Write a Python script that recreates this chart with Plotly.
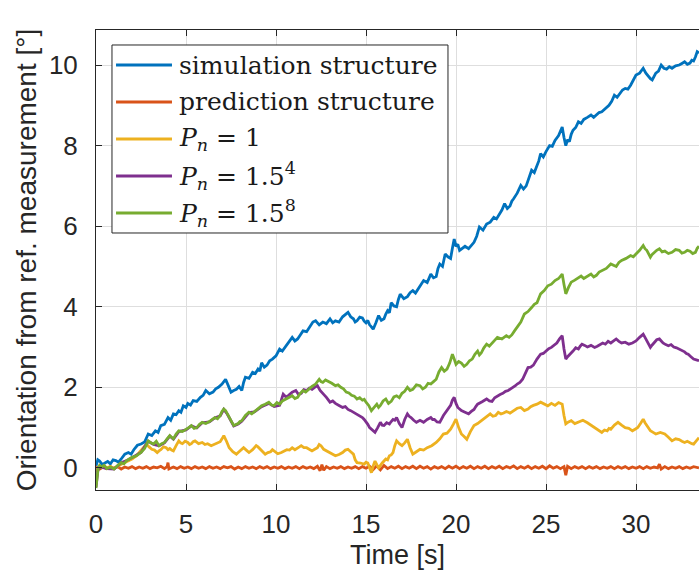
import plotly.graph_objects as go

# ---- data: (time [s], orientation [deg]) pairs ----
sim_structure = [
    (0,0.05),(0.1,0.2),(0.2,0.17),(0.35,0.08),(0.5,0.12),(0.65,0.16),(0.8,0.1),(0.95,0.2),(1.1,0.18),(1.25,0.14),
    (1.4,0.22),(1.6,0.34),(1.8,0.38),(1.95,0.34),(2.1,0.45),(2.3,0.56),(2.5,0.59),(2.7,0.64),(2.9,0.84),(3.1,0.8),
    (3.3,0.92),(3.45,0.88),(3.6,1.05),(3.8,1.08),(4.0,1.25),(4.15,1.18),(4.3,1.34),(4.45,1.32),(4.6,1.42),(4.72,1.38),
    (4.85,1.54),(5.0,1.5),(5.1,1.6),(5.25,1.56),(5.4,1.67),(5.6,1.65),(5.8,1.75),(5.95,1.8),(6.1,1.92),(6.3,1.84),
    (6.5,1.88),(6.65,1.96),(6.8,2.0),(7.0,2.08),(7.2,2.2),(7.35,2.05),(7.5,1.88),(7.65,1.92),(7.8,1.95),(7.95,2.02),
    (8.1,1.92),(8.2,2.12),(8.3,2.25),(8.5,2.22),(8.7,2.37),(8.85,2.34),(9.0,2.45),(9.1,2.4),(9.2,2.61),(9.35,2.5),
    (9.5,2.55),(9.65,2.66),(9.8,2.7),(10.0,2.78),(10.2,2.95),(10.35,2.9),(10.5,3.0),(10.7,3.12),(10.9,3.24),(11.05,3.15),
    (11.2,3.2),(11.35,3.3),(11.5,3.4),(11.7,3.38),(11.9,3.5),(12.05,3.62),(12.2,3.65),(12.4,3.55),(12.6,3.62),(12.8,3.58),
    (13.0,3.7),(13.15,3.6),(13.3,3.65),(13.5,3.62),(13.7,3.75),(13.85,3.8),(14.0,3.86),(14.15,3.75),(14.3,3.7),(14.4,3.62),
    (14.5,3.65),(14.65,3.74),(14.8,3.72),(14.9,3.64),(15.0,3.6),(15.1,3.66),(15.2,3.55),(15.3,3.5),(15.4,3.44),(15.55,3.6),
    (15.7,3.78),(15.85,3.66),(16.0,3.7),(16.1,3.82),(16.2,3.9),(16.3,3.85),(16.4,4.1),(16.55,4.02),(16.7,4.0),(16.8,4.18),
    (16.9,4.31),(17.1,4.2),(17.3,4.25),(17.45,4.35),(17.6,4.4),(17.75,4.34),(17.9,4.45),(18.05,4.55),(18.2,4.65),(18.4,4.6),
    (18.6,4.81),(18.75,4.72),(18.9,4.75),(19.0,4.95),(19.1,5.06),(19.25,5.0),(19.4,5.31),(19.55,5.24),(19.7,5.2),(19.8,5.45),
    (19.9,5.68),(20.0,5.5),(20.1,5.55),(20.2,5.4),(20.3,5.44),(20.5,5.5),(20.7,5.44),(20.85,5.52),(21.0,5.6),(21.15,5.75),
    (21.3,5.98),(21.5,5.9),(21.7,6.05),(21.9,6.1),(22.1,6.22),(22.25,6.18),(22.4,6.3),(22.55,6.4),(22.7,6.56),(22.85,6.44),
    (23.0,6.5),(23.1,6.62),(23.2,6.68),(23.4,6.82),(23.6,7.01),(23.75,6.92),(23.9,7.0),(24.05,7.22),(24.2,7.39),(24.35,7.33),
    (24.5,7.5),(24.6,7.62),(24.7,7.8),(24.85,7.72),(25.0,7.85),(25.1,7.92),(25.2,8.0),(25.35,7.98),(25.5,8.13),(25.7,8.25),
    (25.9,8.46),(26.0,8.2),(26.1,8.0),(26.2,8.15),(26.3,8.1),(26.4,8.28),(26.5,8.38),(26.65,8.45),(26.8,8.59),(26.95,8.55),
    (27.1,8.65),(27.3,8.7),(27.5,8.76),(27.65,8.7),(27.8,8.75),(27.95,8.82),(28.1,8.84),(28.3,8.92),(28.5,9.0),(28.65,9.1),
    (28.8,9.25),(28.95,9.2),(29.1,9.3),(29.25,9.38),(29.4,9.42),(29.55,9.4),(29.7,9.5),(29.85,9.62),(30.0,9.75),(30.2,9.8),
    (30.4,9.92),(30.55,9.8),(30.7,9.7),(30.8,9.66),(30.9,9.63),(31.0,9.72),(31.1,9.8),(31.25,9.85),(31.4,10.0),(31.55,9.92),
    (31.7,9.9),(31.85,9.96),(32.0,9.92),(32.2,9.98),(32.4,10.0),(32.55,10.04),(32.7,10.08),(32.85,10.02),(33.0,10.05),(33.1,10.12),
    (33.2,10.1),(33.3,10.2),(33.4,10.33),(33.5,10.3),
]

pred_structure = [
    (0,0.03),(0.2,-0.03),(0.4,0.02),(0.6,-0.02),(0.8,0.03),(1.0,-0.01),(1.2,0.03),(1.4,-0.03),(1.6,0.02),(1.8,-0.01),
    (2.0,0.03),(2.2,-0.02),(2.4,0.02),(2.6,-0.01),(2.8,0.03),(3.0,-0.02),(3.2,0.02),(3.4,0.0),(3.6,0.04),(3.8,-0.02),
    (3.95,0.03),(4.0,0.13),(4.05,-0.03),(4.3,0.02),(4.5,-0.02),(4.7,0.03),(4.9,-0.01),(5.1,0.02),(5.3,-0.02),(5.5,0.03),
    (5.7,-0.01),(5.9,0.02),(6.1,-0.02),(6.3,0.03),(6.5,-0.01),(6.7,0.02),(6.9,-0.02),(7.1,0.03),(7.3,0.0),(7.5,0.03),
    (7.7,-0.03),(7.9,0.02),(8.1,-0.02),(8.3,0.03),(8.5,-0.01),(8.7,0.02),(8.9,-0.02),(9.1,0.03),(9.3,-0.01),(9.5,0.03),
    (9.7,-0.02),(9.9,0.02),(10.1,-0.01),(10.3,0.03),(10.5,-0.02),(10.7,0.02),(10.9,-0.01),(11.1,0.03),(11.3,-0.02),(11.5,0.03),
    (11.7,-0.01),(11.9,0.02),(12.1,-0.02),(12.3,0.04),(12.45,-0.07),(12.55,0.08),(12.65,-0.06),(12.8,0.03),(13.0,-0.02),(13.2,0.02),
    (13.4,-0.01),(13.6,0.03),(13.8,-0.02),(14.0,0.02),(14.2,-0.01),(14.4,0.03),(14.6,-0.02),(14.8,0.03),(15.0,-0.01),(15.2,0.04),
    (15.4,-0.04),(15.6,0.05),(15.8,-0.05),(16.0,0.06),(16.2,-0.02),(16.4,0.03),(16.6,-0.01),(16.8,0.04),(17.0,-0.02),(17.2,0.03),
    (17.4,-0.01),(17.6,0.04),(17.8,-0.02),(18.0,0.04),(18.2,-0.01),(18.4,0.03),(18.6,-0.03),(18.8,0.03),(19.0,-0.01),(19.2,0.03),
    (19.4,-0.02),(19.6,0.04),(19.8,-0.01),(20.0,0.04),(20.2,-0.02),(20.4,0.03),(20.6,-0.01),(20.8,0.04),(21.0,-0.02),(21.2,0.03),
    (21.4,-0.01),(21.6,0.04),(21.8,-0.02),(22.0,0.03),(22.2,-0.01),(22.4,0.04),(22.6,-0.02),(22.8,0.03),(23.0,0.0),(23.2,0.05),
    (23.4,-0.02),(23.6,0.03),(23.8,-0.01),(24.0,0.04),(24.2,-0.02),(24.4,0.03),(24.6,-0.01),(24.8,0.04),(25.0,-0.02),(25.2,0.05),
    (25.4,-0.01),(25.6,0.03),(25.8,-0.02),(26.0,0.03),(26.1,-0.18),(26.2,0.04),(26.4,-0.02),(26.6,0.03),(26.8,-0.01),(27.0,0.03),
    (27.2,-0.02),(27.4,0.03),(27.6,-0.01),(27.8,0.03),(28.0,-0.02),(28.2,0.02),(28.4,-0.01),(28.6,0.03),(28.8,-0.02),(29.0,0.03),
    (29.2,-0.01),(29.4,0.03),(29.6,-0.02),(29.8,0.02),(30.0,-0.01),(30.2,0.03),(30.4,-0.02),(30.6,0.03),(30.8,-0.01),(31.0,0.02),
    (31.2,0.0),(31.3,0.09),(31.4,-0.03),(31.6,0.03),(31.8,-0.02),(32.0,0.02),(32.2,-0.01),(32.4,0.03),(32.6,-0.02),(32.8,0.02),
    (33.0,-0.01),(33.2,0.03),(33.5,0.0),
]

pn_1 = [
    (0,-0.1),(0.12,0.0),(0.2,0.05),(0.3,0.02),(0.45,0.05),(0.6,0.0),(0.8,0.03),(1.0,-0.02),(1.2,0.04),(1.4,0.09),
    (1.55,0.12),(1.7,0.15),(1.85,0.2),(2.0,0.22),(2.25,0.3),(2.5,0.42),(2.65,0.5),(2.8,0.59),(2.95,0.52),(3.1,0.46),
    (3.25,0.44),(3.4,0.38),(3.5,0.42),(3.6,0.45),(3.75,0.52),(3.9,0.5),(4.0,0.45),(4.1,0.48),(4.2,0.44),(4.3,0.42),
    (4.45,0.55),(4.6,0.67),(4.7,0.62),(4.8,0.6),(4.95,0.66),(5.1,0.63),(5.2,0.58),(5.3,0.6),(5.4,0.65),(5.5,0.67),
    (5.7,0.6),(5.9,0.63),(6.05,0.58),(6.2,0.6),(6.4,0.55),(6.6,0.59),(6.75,0.6),(6.9,0.65),(7.0,0.72),(7.1,0.8),
    (7.25,0.66),(7.4,0.5),(7.6,0.4),(7.8,0.34),(7.9,0.38),(8.0,0.42),(8.1,0.47),(8.2,0.5),(8.35,0.44),(8.5,0.38),
    (8.7,0.45),(8.9,0.55),(9.0,0.52),(9.1,0.48),(9.25,0.4),(9.4,0.34),(9.55,0.38),(9.7,0.4),(9.8,0.45),(9.9,0.42),
    (10.1,0.35),(10.3,0.38),(10.45,0.42),(10.6,0.45),(10.75,0.44),(10.9,0.5),(11.05,0.45),(11.2,0.48),(11.3,0.52),(11.4,0.55),
    (11.55,0.5),(11.7,0.5),(11.85,0.46),(12.0,0.42),(12.15,0.46),(12.3,0.5),(12.4,0.58),(12.5,0.55),(12.65,0.46),(12.8,0.42),
    (12.9,0.4),(13.0,0.38),(13.15,0.34),(13.3,0.3),(13.5,0.33),(13.7,0.38),(13.85,0.44),(14.0,0.46),(14.15,0.4),(14.3,0.34),
    (14.4,0.2),(14.5,0.13),(14.7,0.12),(14.9,0.09),(15.0,0.14),(15.1,0.12),(15.2,0.0),(15.3,-0.12),(15.4,0.05),(15.5,0.17),
    (15.6,0.08),(15.7,0.0),(15.9,0.12),(16.1,0.22),(16.2,0.2),(16.3,0.3),(16.4,0.32),(16.5,0.38),(16.6,0.55),(16.7,0.67),
    (16.85,0.6),(17.0,0.55),(17.15,0.62),(17.3,0.71),(17.45,0.5),(17.6,0.34),(17.8,0.4),(18.0,0.46),(18.2,0.44),(18.4,0.5),
    (18.65,0.55),(18.9,0.63),(19.1,0.72),(19.3,0.84),(19.5,0.86),(19.7,0.96),(19.85,1.08),(20.0,1.21),(20.15,1.0),(20.3,0.84),
    (20.45,0.78),(20.6,0.71),(20.8,0.9),(21.0,1.05),(21.2,1.1),(21.4,1.17),(21.65,1.26),(21.9,1.34),(22.05,1.28),(22.2,1.3),
    (22.35,1.38),(22.5,1.34),(22.65,1.36),(22.8,1.4),(23.0,1.36),(23.2,1.42),(23.4,1.48),(23.6,1.5),(23.8,1.42),(24.0,1.46),
    (24.15,1.52),(24.3,1.55),(24.5,1.58),(24.7,1.63),(24.9,1.58),(25.1,1.54),(25.3,1.6),(25.5,1.55),(25.7,1.62),(25.9,1.58),
    (26.0,1.3),(26.1,1.09),(26.25,1.14),(26.4,1.17),(26.6,1.1),(26.8,1.13),(27.05,1.18),(27.3,1.12),(27.5,1.06),(27.7,1.0),
    (27.9,0.96),(28.1,0.88),(28.25,0.94),(28.4,0.92),(28.5,0.98),(28.6,0.96),(28.8,1.06),(29.0,1.13),(29.2,1.06),(29.4,1.0),
    (29.6,0.98),(29.8,0.92),(29.95,0.96),(30.1,1.0),(30.25,1.1),(30.4,1.21),(30.5,1.12),(30.6,1.05),(30.7,0.98),(30.8,0.92),
    (30.95,0.88),(31.1,0.84),(31.35,0.88),(31.6,0.84),(31.8,0.76),(32.0,0.67),(32.2,0.72),(32.4,0.7),(32.55,0.66),(32.7,0.63),
    (32.85,0.66),(33.0,0.62),(33.1,0.6),(33.2,0.59),(33.35,0.66),(33.5,0.75),
]

pn_15_4 = [
    (0,-0.48),(0.05,-0.2),(0.12,0.0),(0.3,0.02),(0.6,-0.02),(1.0,-0.03),(1.4,0.13),(1.7,0.18),(2.0,0.26),(2.5,0.38),
    (2.9,0.66),(3.2,0.58),(3.5,0.55),(3.8,0.62),(4.1,0.79),(4.3,0.71),(4.6,0.9),(5.0,0.94),(5.3,1.04),(5.6,0.99),
    (5.9,1.12),(6.3,1.14),(6.6,1.24),(6.9,1.29),(7.1,1.45),(7.3,1.33),(7.65,1.04),(7.9,1.09),(8.1,1.16),(8.5,1.37),
    (8.8,1.39),(9.2,1.52),(9.6,1.6),(9.9,1.52),(10.2,1.55),(10.3,1.7),(10.4,1.83),(10.55,1.76),(10.7,1.8),(10.9,1.88),
    (11.1,1.92),(11.25,1.82),(11.4,1.85),(11.55,1.94),(11.7,1.92),(11.85,1.98),(12.0,1.95),(12.15,2.0),(12.3,2.04),(12.45,1.92),
    (12.6,1.83),(12.7,1.8),(12.8,1.75),(12.9,1.68),(13.0,1.63),(13.15,1.66),(13.3,1.6),(13.5,1.55),(13.7,1.5),(13.85,1.52),
    (14.0,1.45),(14.15,1.42),(14.3,1.38),(14.45,1.34),(14.6,1.3),(14.7,1.28),(14.8,1.25),(14.9,1.2),(15.0,1.15),(15.1,1.08),
    (15.2,1.0),(15.35,0.95),(15.5,0.88),(15.65,1.0),(15.8,1.13),(15.9,1.06),(16.0,1.05),(16.15,1.12),(16.3,1.09),(16.4,1.15),
    (16.5,1.2),(16.6,1.18),(16.7,1.25),(16.85,1.1),(17.0,1.0),(17.15,1.2),(17.3,1.34),(17.4,1.28),(17.5,1.25),(17.65,1.18),
    (17.8,1.13),(18.0,1.18),(18.2,1.13),(18.4,1.2),(18.6,1.25),(18.7,1.2),(18.8,1.2),(18.95,1.14),(19.1,1.13),(19.3,1.3),
    (19.5,1.42),(19.6,1.5),(19.7,1.55),(19.8,1.68),(19.9,1.75),(20.0,1.6),(20.1,1.5),(20.2,1.46),(20.3,1.42),(20.5,1.38),
    (20.7,1.34),(20.85,1.4),(21.0,1.45),(21.1,1.52),(21.2,1.58),(21.45,1.64),(21.7,1.71),(21.85,1.66),(22.0,1.65),(22.15,1.74),
    (22.3,1.79),(22.45,1.82),(22.6,1.85),(22.75,1.9),(22.9,1.92),(23.05,1.96),(23.2,2.0),(23.3,2.04),(23.4,2.08),(23.55,2.12),
    (23.7,2.2),(23.85,2.35),(24.0,2.49),(24.15,2.5),(24.3,2.55),(24.5,2.7),(24.7,2.82),(24.85,2.84),(25.0,2.9),(25.15,2.96),
    (25.3,2.99),(25.45,3.05),(25.6,3.1),(25.75,3.2),(25.9,3.28),(26.0,2.95),(26.1,2.7),(26.2,2.76),(26.3,2.8),(26.4,2.86),
    (26.5,2.9),(26.65,2.98),(26.8,2.95),(26.9,3.02),(27.0,3.07),(27.15,3.04),(27.3,3.0),(27.5,3.04),(27.7,2.99),(27.85,3.02),
    (28.0,3.05),(28.15,3.1),(28.3,3.07),(28.45,3.14),(28.6,3.1),(28.75,3.16),(28.9,3.2),(29.05,3.14),(29.2,3.1),(29.4,3.12),
    (29.6,3.07),(29.8,3.1),(30.0,3.15),(30.2,3.24),(30.4,3.32),(30.5,3.24),(30.6,3.15),(30.7,3.06),(30.8,2.99),(30.9,3.05),
    (31.0,3.1),(31.15,3.18),(31.3,3.2),(31.4,3.14),(31.5,3.1),(31.65,3.06),(31.8,3.03),(31.95,3.06),(32.1,3.0),(32.25,2.98),
    (32.4,2.95),(32.55,2.9),(32.7,2.88),(32.8,2.84),(32.9,2.82),(33.05,2.76),(33.2,2.7),(33.35,2.68),(33.5,2.66),
]

pn_15_8 = [
    (0,-0.5),(0.05,-0.2),(0.12,0.0),(0.2,0.06),(0.3,0.02),(0.45,0.06),(0.6,-0.02),(0.8,0.02),(1.0,-0.03),(1.2,0.06),
    (1.4,0.13),(1.55,0.1),(1.7,0.18),(1.85,0.22),(2.0,0.26),(2.25,0.3),(2.5,0.38),(2.7,0.48),(2.9,0.67),(3.05,0.62),
    (3.2,0.59),(3.35,0.66),(3.5,0.55),(3.65,0.6),(3.8,0.63),(3.95,0.72),(4.1,0.8),(4.2,0.76),(4.3,0.72),(4.45,0.84),
    (4.6,0.92),(4.8,0.9),(5.0,0.95),(5.15,1.0),(5.3,1.05),(5.45,0.98),(5.6,1.0),(5.75,1.08),(5.9,1.13),(6.1,1.1),
    (6.3,1.15),(6.45,1.2),(6.6,1.25),(6.75,1.22),(6.9,1.3),(7.0,1.4),(7.1,1.46),(7.2,1.42),(7.3,1.34),(7.45,1.2),
    (7.65,1.05),(7.8,1.08),(7.9,1.1),(8.0,1.15),(8.1,1.17),(8.3,1.3),(8.5,1.38),(8.65,1.34),(8.8,1.4),(9.0,1.48),
    (9.2,1.54),(9.4,1.58),(9.6,1.63),(9.75,1.56),(9.9,1.55),(10.05,1.62),(10.2,1.58),(10.35,1.66),(10.5,1.7),(10.7,1.74),
    (10.9,1.79),(11.05,1.72),(11.2,1.75),(11.35,1.85),(11.5,1.92),(11.65,1.88),(11.8,1.95),(12.0,2.02),(12.2,2.08),(12.3,2.14),
    (12.4,2.2),(12.5,2.14),(12.6,2.12),(12.75,2.18),(12.9,2.15),(13.1,2.1),(13.3,2.04),(13.45,2.06),(13.6,2.0),(13.75,1.96),
    (13.9,1.88),(14.05,1.86),(14.2,1.8),(14.35,1.78),(14.5,1.71),(14.65,1.74),(14.8,1.68),(14.9,1.7),(15.0,1.63),(15.15,1.55),
    (15.3,1.42),(15.45,1.5),(15.6,1.58),(15.7,1.5),(15.8,1.55),(15.95,1.66),(16.1,1.71),(16.25,1.6),(16.4,1.65),(16.55,1.76),
    (16.7,1.79),(16.85,1.74),(17.0,1.85),(17.15,1.9),(17.3,2.0),(17.45,1.92),(17.6,1.95),(17.8,2.06),(18.0,2.04),(18.15,1.96),
    (18.3,2.0),(18.45,2.1),(18.6,2.08),(18.75,2.14),(18.9,2.2),(19.05,2.38),(19.2,2.49),(19.35,2.4),(19.5,2.45),(19.65,2.6),
    (19.8,2.82),(19.9,2.7),(20.0,2.57),(20.15,2.64),(20.3,2.6),(20.45,2.52),(20.6,2.57),(20.75,2.66),(20.9,2.7),(21.05,2.82),
    (21.2,2.9),(21.3,2.8),(21.4,2.85),(21.55,2.98),(21.7,3.07),(21.85,3.02),(22.0,3.1),(22.15,3.18),(22.3,3.24),(22.55,3.2),
    (22.8,3.28),(22.95,3.24),(23.1,3.3),(23.25,3.4),(23.4,3.49),(23.6,3.62),(23.8,3.82),(24.0,3.88),(24.2,3.98),(24.35,4.06),
    (24.5,4.1),(24.6,4.2),(24.7,4.32),(24.9,4.4),(25.1,4.52),(25.3,4.56),(25.5,4.65),(25.7,4.7),(25.9,4.81),(26.0,4.55),
    (26.1,4.32),(26.25,4.48),(26.4,4.61),(26.6,4.66),(26.8,4.73),(26.95,4.76),(27.1,4.7),(27.3,4.76),(27.5,4.81),(27.65,4.74),
    (27.8,4.78),(27.95,4.86),(28.1,4.9),(28.35,4.95),(28.6,5.06),(28.75,5.02),(28.9,5.0),(29.05,5.1),(29.2,5.15),(29.45,5.2),
    (29.7,5.27),(29.85,5.24),(30.0,5.3),(30.2,5.4),(30.4,5.52),(30.5,5.44),(30.6,5.4),(30.7,5.3),(30.8,5.23),(30.9,5.3),
    (31.0,5.35),(31.15,5.4),(31.3,5.44),(31.45,5.36),(31.6,5.38),(31.8,5.32),(32.0,5.35),(32.2,5.42),(32.4,5.4),(32.55,5.33),
    (32.7,5.35),(32.85,5.4),(33.0,5.38),(33.15,5.32),(33.3,5.35),(33.4,5.45),(33.5,5.5),
]

series_names = [
    "simulation structure",
    "prediction structure",
    "<i>P</i><sub><i>n</i></sub> = 1",
    "<i>P</i><sub><i>n</i></sub> = 1.5<sup>4</sup>",
    "<i>P</i><sub><i>n</i></sub> = 1.5<sup>8</sup>",
]
series_data = [sim_structure, pred_structure, pn_1, pn_15_4, pn_15_8]
series_colors = ["#0072BD", "#D95319", "#EDB120", "#7E2F8E", "#77AC30"]

x_ticks = [0, 5, 10, 15, 20, 25, 30]
y_ticks = [0, 2, 4, 6, 8, 10]

fig = go.Figure()
for name, data, color in zip(series_names, series_data, series_colors):
    fig.add_trace(go.Scatter(
        x=[p[0] for p in data], y=[p[1] for p in data], mode="lines", name=name,
        line=dict(color=color, width=2.8), showlegend=False,
    ))

axis_col = "#262626"

# legend drawn as a framed box (MATLAB style: long line samples, serif text)
box_x0, box_x1, box_y0, box_y1 = 0.0265, 0.5837, 0.5587, 0.9674
row_y = [0.9239, 0.8435, 0.7630, 0.6826, 0.6022]
shapes = [dict(type="rect", xref="paper", yref="paper", x0=box_x0, x1=box_x1, y0=box_y0, y1=box_y1,
               line=dict(color=axis_col, width=1), fillcolor="white", layer="above")]
annotations = []
for name, color, ry in zip(series_names, series_colors, row_y):
    shapes.append(dict(type="line", xref="paper", yref="paper", x0=0.0332, x1=0.126, y0=ry, y1=ry,
                       line=dict(color=color, width=2.8), layer="above"))
    annotations.append(dict(xref="paper", yref="paper", x=0.134, y=ry, xanchor="left", yanchor="middle",
                            text=name, showarrow=False,
                            font=dict(family="DejaVu Serif", size=25, color="#1a1a1a")))

fig.update_layout(
    width=699, height=577,
    margin=dict(l=96, r=0, t=30, b=87),
    plot_bgcolor="white", paper_bgcolor="white",
    font=dict(family="Liberation Sans, Arial", color=axis_col, size=26),
    showlegend=False,
    shapes=shapes, annotations=annotations,
    xaxis=dict(
        range=[0, 33.5], tickvals=x_ticks, ticks="inside", ticklen=6, tickcolor=axis_col,
        showline=True, linecolor=axis_col, linewidth=1, mirror="ticks",
        showgrid=True, gridcolor="#dedede", gridwidth=1, zeroline=False,
        ticklabelstandoff=11,
        title=dict(text="Time [s]", standoff=6, font=dict(size=27)),
        tickfont=dict(size=26),
    ),
    yaxis=dict(
        range=[-0.55, 10.87], tickvals=y_ticks, ticks="inside", ticklen=6, tickcolor=axis_col,
        showline=True, linecolor=axis_col, linewidth=1, mirror=False,
        showgrid=True, gridcolor="#dedede", gridwidth=1, zeroline=False,
        ticklabelstandoff=12,
        title=dict(text="Orientation from ref. measurement [°]", standoff=4, font=dict(size=28)),
        tickfont=dict(size=26),
    ),
)

fig.write_html("out.html")
